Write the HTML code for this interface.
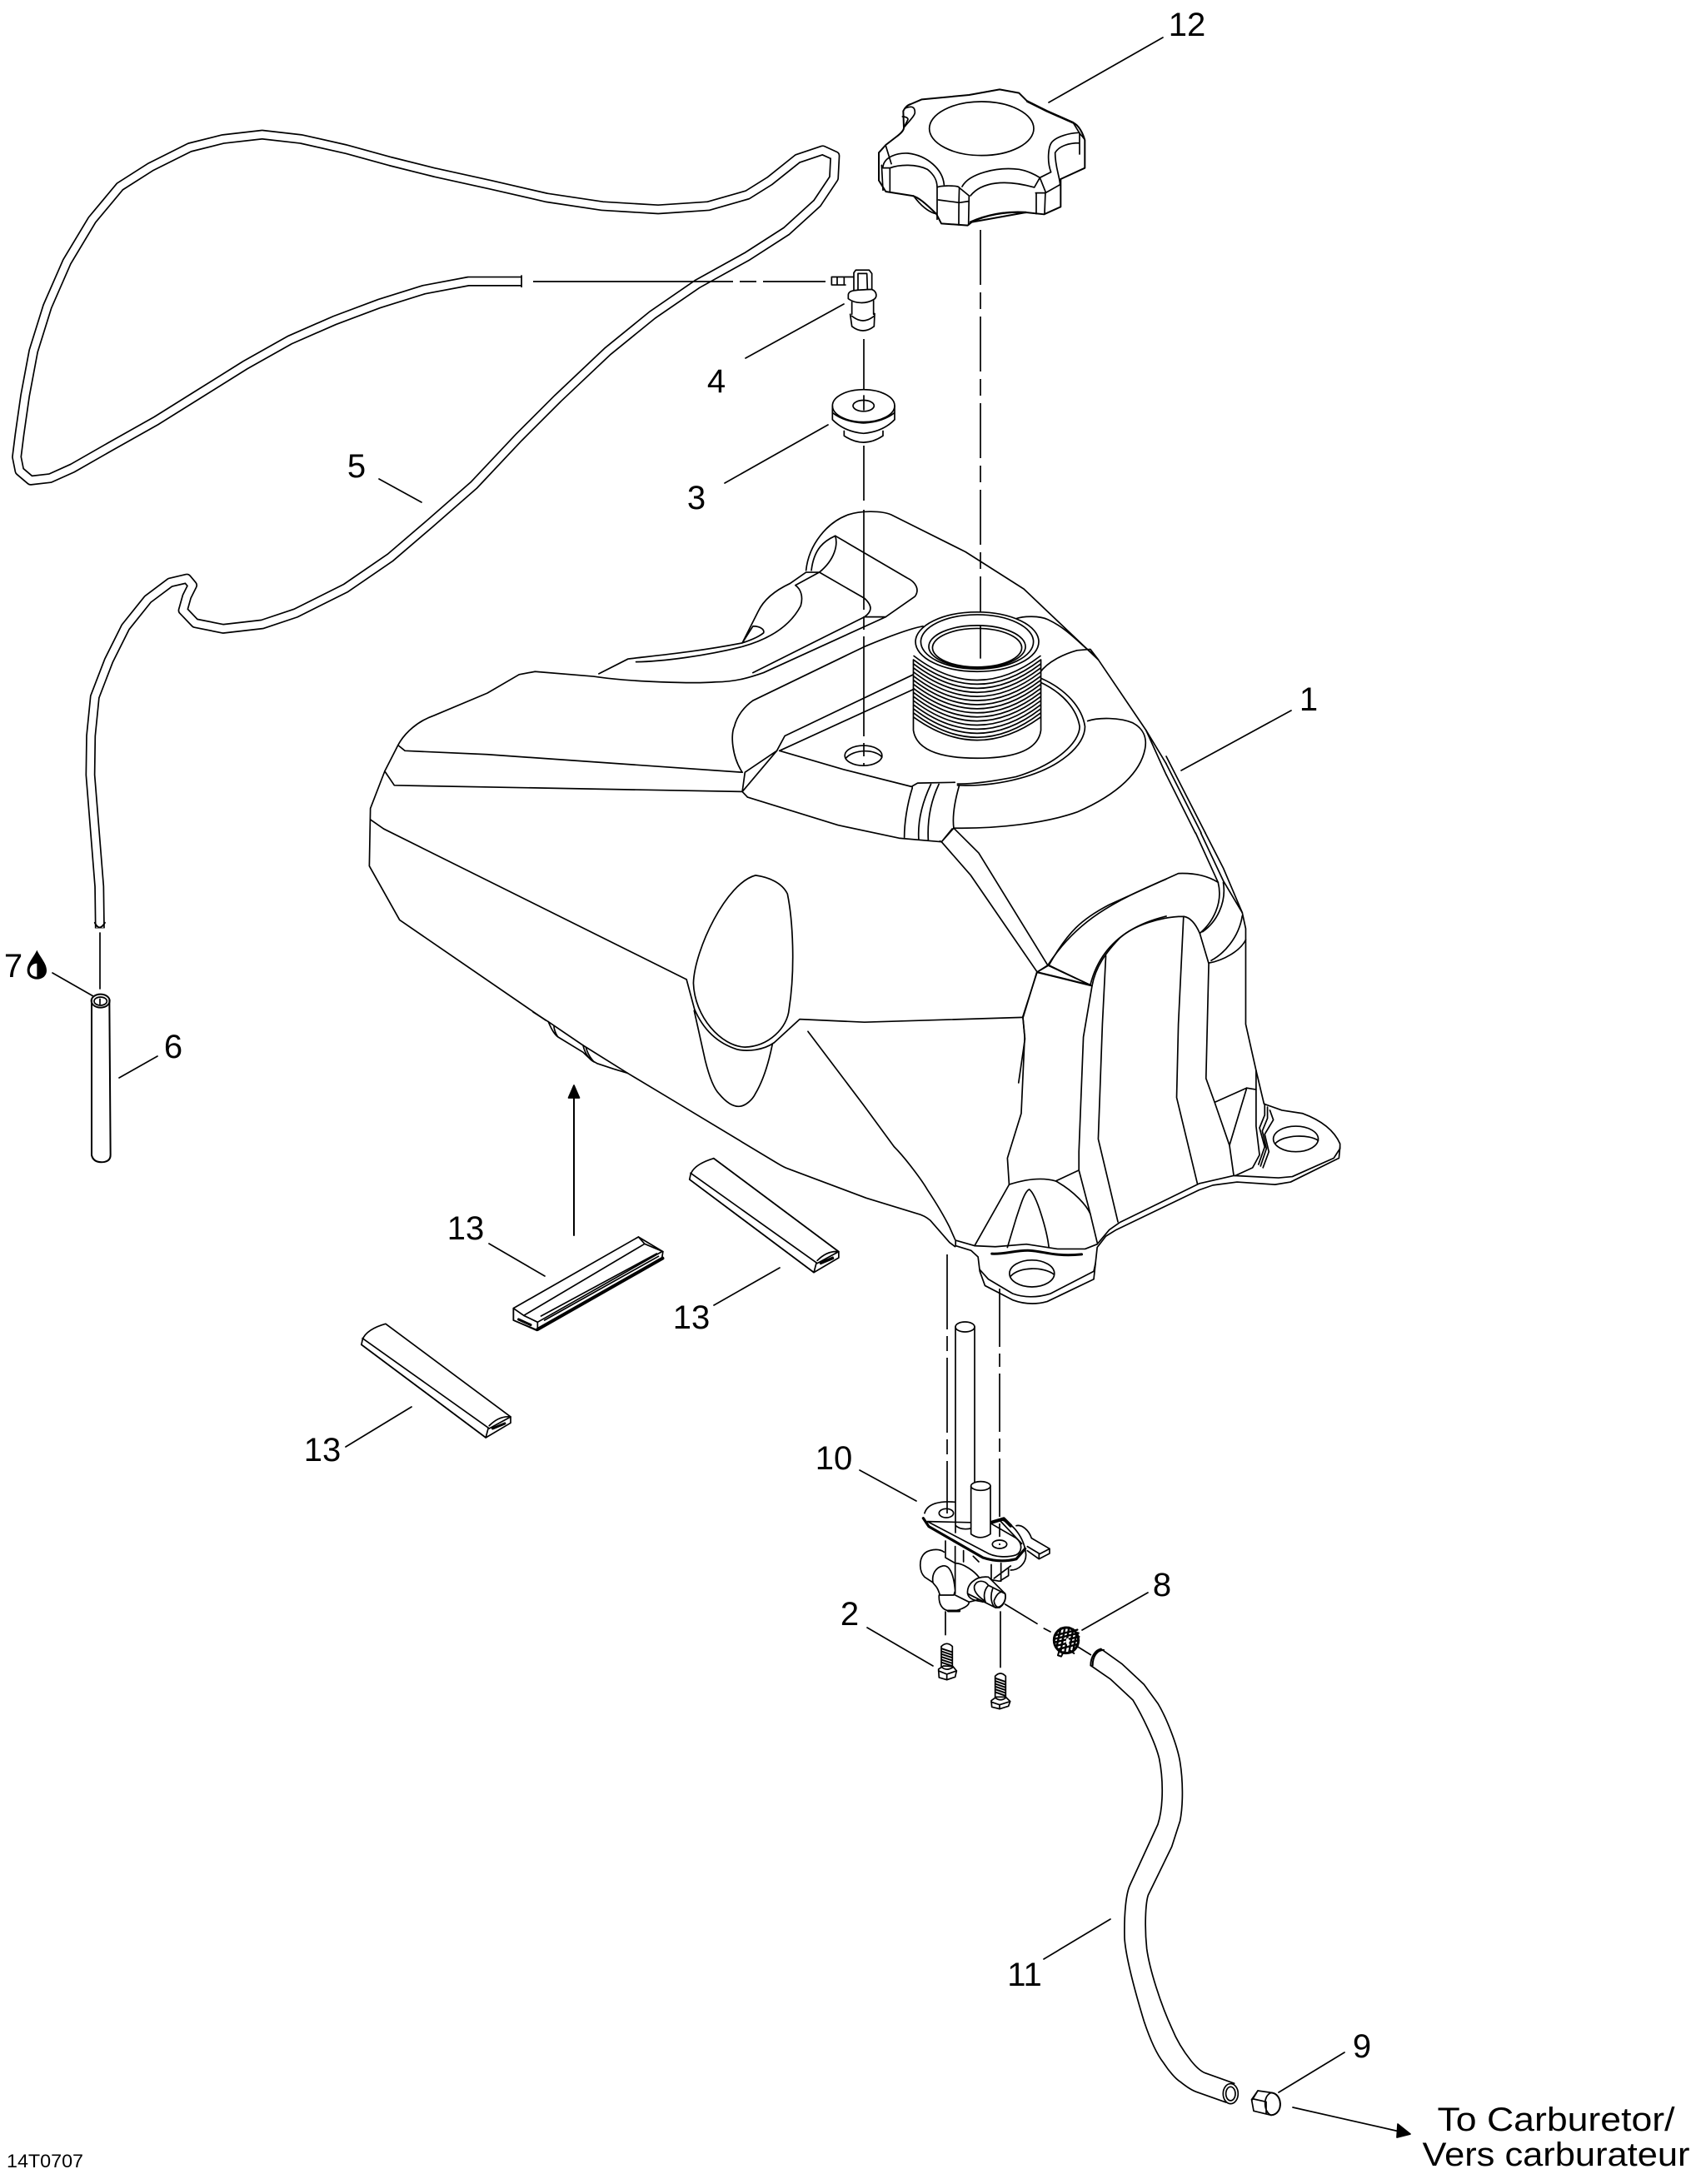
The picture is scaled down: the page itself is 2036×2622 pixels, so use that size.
<!DOCTYPE html>
<html><head><meta charset="utf-8"><style>
html,body{margin:0;padding:0;background:#fff}
svg{display:block}
svg *{vector-effect:non-scaling-stroke}
text{font-family:"Liberation Sans",sans-serif;font-size:40px;fill:#000;stroke:none;text-anchor:middle}
</style></head><body>
<svg width="2036" height="2622" viewBox="0 0 2036 2622" xmlns="http://www.w3.org/2000/svg">
<rect width="2036" height="2622" fill="#fff"/>
<g fill="none" stroke="#000" stroke-width="1.7" stroke-linejoin="round" stroke-linecap="round">

<!-- vent hose -->
<g transform="translate(0,100) scale(.6696)">
<polyline stroke-width="12" stroke-linecap="butt" points="935,355 840,355 760,370 680,395 600,425 520,460 440,505 360,555 280,605 200,650 130,690 90,708 55,712 35,695 30,670 35,630 45,560 60,480 85,400 120,320 165,245 215,185 270,150 340,115 400,100 470,92 540,100 620,118 700,140 780,160 880,182 980,205 1080,220 1180,226 1270,220 1340,200 1380,175 1430,135 1475,120 1497,130 1495,170 1465,215 1410,265 1340,310 1250,360 1170,415 1090,480 1000,565 930,635 850,720 770,790 700,850 620,905 530,950 470,970 400,978 350,968 328,945 335,920 345,900 335,888 305,895 265,925 225,975 195,1035 170,1100 163,1170 162,1240 170,1340 178,1440 179,1515"/>
<polyline stroke="#fff" stroke-width="8.6" stroke-linecap="butt" points="934,355 840,355 760,370 680,395 600,425 520,460 440,505 360,555 280,605 200,650 130,690 90,708 55,712 35,695 30,670 35,630 45,560 60,480 85,400 120,320 165,245 215,185 270,150 340,115 400,100 470,92 540,100 620,118 700,140 780,160 880,182 980,205 1080,220 1180,226 1270,220 1340,200 1380,175 1430,135 1475,120 1497,130 1495,170 1465,215 1410,265 1340,310 1250,360 1170,415 1090,480 1000,565 930,635 850,720 770,790 700,850 620,905 530,950 470,970 400,978 350,968 328,945 335,920 345,900 335,888 305,895 265,925 225,975 195,1035 170,1100 163,1170 162,1240 170,1340 178,1440 179,1514"/>
<path d="M935,345 V365"/>
<path d="M170,1505 Q178,1522 188,1505" stroke-width="2"/>
</g>
<!-- fuel hose -->
<g transform="translate(1250,1900) scale(.3333,.4146)">
<path d="M215,192 L290,235 L370,295 L420,350 C450,390 490,470 500,520 C510,570 512,640 500,690 L470,765 L385,905 C375,930 372,1000 380,1060 C390,1120 430,1220 470,1290 C495,1340 530,1375 540,1385 C560,1405 575,1415 590,1420 L695,1450"/>
<path d="M178,240 L250,280 L330,340 C360,380 410,460 425,510 C440,570 440,650 420,700 L320,875 C305,900 298,960 300,1030 C305,1090 340,1190 370,1270 C395,1330 420,1370 440,1390 C460,1415 485,1438 500,1445 C520,1458 540,1470 560,1475 L665,1505"/>
<path d="M215,192 C195,195 178,215 178,240 M225,195 C200,195 185,215 185,240" stroke-width="2"/>
<ellipse cx="682" cy="1480" rx="27" ry="29" fill="#fff"/>
<ellipse cx="682" cy="1480" rx="17" ry="20"/>
</g>
<g transform="translate(1250,2350) scale(.5,.3333)">
<!-- plug 9 -->
<path fill="#fff" d="M520,480 L552,487 C580,490 582,565 552,568 L510,553 L505,512Z"/>
<path d="M552,487 C530,500 535,560 552,568 M510,510 L540,520 L540,562 M520,480 L507,512"/>
<path d="M552,487 C580,490 582,565 552,568" stroke-width="2"/>
</g>

<!-- leaders -->
<path d="M1396,45 L1259,123 M1013,365 L895,430 M994,510 L870,580 M506,603 L455,575 M1418,925 L1550,853 M63,1168 L112,1196 M143,1294 L189,1268 M587,1493 L654,1532 M857,1567 L936,1522 M415,1737 L494,1689 M1032,1765 L1100,1802 M1041,1954 L1120,2000 M1299,1957 L1378,1912 M1333,2304 L1253,2352 M1535,2512 L1614,2464"/>
<!-- center lines -->
<path d="M1177,276 V790" stroke-dasharray="66 9 20 9" stroke-linecap="butt"/>
<path d="M1037,407 V475 M1037,535 V601 M1037,612 V919" stroke-dasharray="120 8 16 8" stroke-linecap="butt"/>
<path d="M640,338 H991" stroke-dasharray="240 8 20 8" stroke-linecap="butt"/>
<path d="M120,1120 V1187"/>
<path d="M1137,1506 V1817" stroke-dasharray="90 8 18 8" stroke-linecap="butt"/>
<path d="M1200,1547 V1855" stroke-dasharray="70 8 16 8" stroke-linecap="butt"/>
<!-- up arrow -->
<path d="M689,1483 V1315" stroke-width="2"/>
<path d="M689,1303 L682.5,1318 L695.5,1318Z" fill="#000"/>
<!-- carb arrow -->
<path d="M1552,2530 L1680,2559"/>
<path d="M1693,2562 L1678,2550 L1677,2566Z" fill="#000"/>

<!-- cap -->
<g transform="translate(1050,100) scale(.3333)">
<path fill="#fff" stroke-width="2" d="M15,250 L40,222 L75,195 C95,180 105,170 105,160 L103,100 C110,85 120,78 130,75 L170,58 L340,42 L450,22 L520,35 L550,65 L620,100 L715,142 C735,150 750,180 757,205 V305 L670,345 V445 L610,472 L545,465 L350,500 L335,512 L240,505 L222,470 C190,440 160,410 135,405 L40,390 L15,350Z"/>
<ellipse cx="385" cy="163" rx="188" ry="97"/>
<path d="M30,300 C35,265 80,250 120,252 C190,260 245,310 250,365 M55,305 C90,292 150,290 190,310 C215,330 225,350 225,375 V490 M55,305 V390 M30,305 H55 M25,295 L30,385 M225,375 C235,368 280,368 300,372 L340,405 L338,510 M230,420 L305,430 L338,425 M305,375 C303,420 303,470 303,510 M315,372 C340,325 440,300 520,310 C550,315 580,330 595,340 M345,405 C385,355 470,345 575,375 L595,340 L615,390 L612,470 M580,395 H615 M582,395 V470 M595,340 L635,320 M615,395 L668,365 M635,320 C620,280 625,225 640,210 C660,190 700,180 735,178 M668,365 C665,330 650,300 650,250 C665,225 700,215 738,215 M738,178 V255 M715,142 L738,180 L755,200 M140,405 C165,440 195,465 222,470 M105,160 C130,130 145,115 145,105 C145,85 135,80 110,90 M100,120 C112,120 120,125 120,130 L105,160 M40,225 L60,290"/>
<path d="M345,500 C400,475 470,460 545,465" stroke-width="2.4"/>
<path d="M550,65 L620,100 L715,142" stroke-width="2.6"/>
</g>

<!-- fitting & grommet -->
<g transform="translate(950,0) scale(.3333,.4146)">
<path d="M145,802 H225 M145,825 H195 M145,802 V825 M165,802 V825 M190,802 V825 M225,790 L232,782 H280 L290,792 V845 M225,790 V850 M240,792 H272 L275,860 M240,792 V860"/>
<path d="M205,855 C205,840 225,840 290,838 C310,845 310,862 295,868 C270,880 230,880 205,865Z" fill="#fff"/>
<path d="M218,875 V910 M296,870 V910 M212,910 L218,945 Q258,970 298,945 L300,908 M218,915 Q258,942 298,915"/>
<ellipse cx="260" cy="1175" rx="112" ry="47" fill="#fff"/>
<path d="M148,1175 V1215 Q190,1250 260,1255 Q330,1250 372,1215 V1175 M148,1195 Q190,1222 260,1225 Q330,1222 372,1195 M190,1248 V1262 Q260,1300 330,1262 V1248"/>
<ellipse cx="260" cy="1175" rx="38" ry="16" fill="#fff"/>
</g>
<path d="M1037,475 V492"/>

<!-- tank upper -->
<g transform="translate(400,600) scale(.6378,.4464)" >
<path d="M400,1400 L125,1130 L68,985 L70,830 L97,730 L122,660 C135,625 160,595 190,580 L290,520 L350,470 L380,462 L490,475 C560,490 680,495 720,490 C760,490 790,475 810,465 L1040,315 L1095,260 C1105,240 1095,220 1080,210 L945,97 C950,120 945,160 915,195 M890,190 C895,120 930,60 970,40 C990,30 1030,28 1050,40 L1190,140 L1300,240 L1440,430 L1530,620 L1568,740"/>
<path d="M900,190 C905,130 925,110 945,97 M122,660 L135,675 L290,685 L770,733 M97,730 L115,768 L770,785 M770,785 L775,733 L835,675 Z M840,675 L960,725 L1090,772 M770,785 L780,800 L950,875 L1065,910 L1145,920 M1090,770 L1100,762 L1170,760"/>
<path d="M1090,775 C1080,820 1075,870 1075,908 M1125,765 C1110,810 1100,860 1102,912 M1140,765 C1125,810 1118,860 1120,915 M1178,770 C1170,810 1165,850 1168,883 L1145,920 L1142,918 M1165,885 L1145,920"/>
<path d="M1168,883 L1215,950 L1345,1252 M1145,920 L1200,1010 L1325,1270 L1345,1252 L1425,1305 L1325,1270 L1298,1390 L1302,1450 L1290,1568"/>
<path d="M1298,1392 L1000,1405 L878,1397 L830,1460 C810,1480 780,1485 760,1478 C720,1460 695,1420 680,1370 L665,1290"/>
<path d="M795,1010 C740,1030 680,1210 678,1300 C680,1390 730,1470 775,1472 C820,1470 855,1420 858,1370 C870,1260 865,1130 855,1060 C845,1030 820,1015 795,1010Z"/>
<path d="M70,860 L95,885 L665,1290"/>
<path d="M1345,1252 C1400,1130 1470,1080 1568,1020 M1425,1305 C1440,1220 1480,1150 1568,1120"/>
<path d="M835,675 L850,635 L1092,470 M840,675 L1092,510 M770,733 C750,690 748,630 755,610 C760,580 775,555 790,540 L1000,395 C1050,365 1090,345 1110,340"/>
<path d="M500,468 L555,428 C600,420 680,410 770,385 L800,300 C810,270 830,245 860,225 L890,195 L915,195 L1000,265 C1015,285 1015,300 1000,315 L790,465 M1000,315 H1040 M570,436 C620,435 700,420 770,395 C820,375 860,340 880,285 C885,260 880,240 870,230 L915,195 M770,385 L790,340 C805,340 812,350 810,358 C800,370 785,378 770,385"/>
<path d="M1285,320 C1300,312 1330,312 1345,322 C1380,345 1400,380 1430,415 M1330,465 C1345,435 1375,415 1400,405 L1425,402 L1440,430 M1332,480 C1380,510 1410,560 1415,610 C1415,660 1370,720 1290,750 C1250,765 1210,770 1175,768 M1330,490 C1375,520 1400,565 1405,610 C1405,650 1365,710 1285,745 C1250,755 1210,765 1175,764"/>
<path d="M1420,595 C1440,585 1480,585 1505,600 C1525,615 1532,640 1528,670 C1520,730 1480,790 1400,840 C1340,870 1250,885 1168,883 M1530,620 L1568,710"/>
<!-- threaded neck -->
<path fill="#fff" stroke="none" d="M1092,382 H1332 V620 Q1325,695 1212,695 Q1100,695 1092,620Z"/>
<path d="M1092,430 V620 Q1100,695 1212,695 Q1325,695 1332,620 V430 M1093,420 Q1212,550 1331,420 M1093,431 Q1212,561 1331,431 M1093,442 Q1212,572 1331,442 M1093,453 Q1212,583 1331,453 M1093,464 Q1212,594 1331,464 M1093,475 Q1212,605 1331,475 M1093,486 Q1212,616 1331,486 M1093,497 Q1212,627 1331,497 M1093,508 Q1212,638 1331,508 M1093,519 Q1212,649 1331,519 M1093,530 Q1212,660 1331,530 M1093,541 Q1212,671 1331,541 M1093,552 Q1212,682 1331,552 M1093,563 Q1212,693 1331,563 M1093,574 Q1212,704 1331,574 M1093,585 Q1212,708 1331,585"/>
<ellipse cx="1212" cy="382" rx="116" ry="80" fill="#fff"/>
<ellipse cx="1212" cy="382" rx="106" ry="73"/>
<ellipse cx="1212" cy="395" rx="91" ry="57"/>
<ellipse cx="1212" cy="398" rx="84" ry="52"/>
<ellipse cx="998" cy="688" rx="35" ry="27"/>
<path d="M965,695 C980,670 1020,670 1033,692"/>
</g>
<path d="M1177,752 V790"/>
<!-- right edge join -->
<path d="M1400,930 L1435,1000 M1400,917 L1442,1000 M1400,908 L1447,1000"/>

<!-- tank belly join -->
<g transform="translate(640,1180) scale(.3333)">
<path d="M0,105 L55,140 L180,225 L340,325 L490,415 L880,650 C900,662 910,667 920,670 L1200,775 L1380,830 C1400,835 1415,842 1430,855 L1500,935 L1520,950"/>
<path d="M55,140 C65,165 75,185 90,195 L180,250 C195,265 210,280 230,290 L290,310 L340,325 M75,155 C75,170 85,190 90,195 M180,225 C185,250 200,275 220,285 M190,232 C195,250 205,270 220,285"/>
<path d="M580,100 L620,280 C635,340 650,380 670,400 C695,430 720,445 740,445 C765,445 790,420 800,400 C830,350 850,280 862,220"/>
<path d="M990,175 L1190,440 L1300,590 C1340,630 1400,710 1420,745 C1450,790 1480,840 1500,880 L1520,925"/>
</g>

<!-- tank lower right -->
<g transform="translate(1000,1000) scale(.4146,.3827)">
<path d="M1078,0 L1130,110 L1185,250 L1195,300 V600 L1225,745 L1248,850 L1300,870 L1360,880 C1410,900 1450,930 1468,975 L1468,990 L1450,1020 L1330,1078 L1290,1082 L1160,1075 L1060,1100 L830,1222 L800,1245 L765,1290"/>
<path d="M1468,985 L1465,1020 L1325,1095 L1280,1103 L1170,1095 L1100,1105 L1060,1120 L820,1245 L790,1265 L765,1300 L760,1350 L755,1400 L620,1470 Q570,1485 520,1465 L440,1420 L425,1375 L420,1330 L400,1310 L355,1295 L355,1278 L410,1295 L470,1298 L560,1290 L650,1305 L730,1305 L765,1290"/>
<path d="M760,1350 L755,1375 L630,1445 Q570,1465 520,1445 L450,1400 L425,1370"/>
<path d="M460,1320 C500,1322 530,1308 570,1310 C610,1312 640,1330 720,1322" stroke-width="3"/>
<ellipse cx="576" cy="1382" rx="65" ry="42"/>
<path d="M515,1390 C540,1360 610,1360 640,1385"/>
<ellipse cx="1340" cy="960" rx="65" ry="40"/>
<path d="M1280,975 C1305,945 1380,945 1405,965"/>
<path d="M410,1295 L510,1103 Q590,1075 645,1092 C700,1125 735,1170 745,1195 L765,1285 M505,1300 L530,1210 C545,1160 555,1125 568,1118 C590,1135 620,1250 625,1300"/>
<path d="M645,1092 L712,1058 M510,1103 L505,1020 L545,880 L555,640 L550,580 L590,437 M590,437 L625,415 L750,480 Z M750,480 L725,640 L712,1000 L712,1058 L745,1195"/>
<path d="M625,415 C680,310 720,270 800,225 L1000,127 C1050,125 1085,135 1115,155 M790,385 L780,600 L768,960 L825,1220"/>
<path d="M750,480 C760,420 790,375 830,330 C870,290 950,262 1015,262 C1035,265 1050,285 1062,315 L1088,410 M1015,262 L1000,600 L995,830 L1055,1100 M1088,410 L1080,770 L1105,845 L1148,980 L1160,1072 M1105,845 L1198,800 L1148,980 M1198,800 L1225,805"/>
<path d="M1062,315 C1100,280 1130,220 1115,155 M1070,310 C1110,280 1140,220 1130,155 M1088,408 C1130,400 1180,370 1195,335 M1095,400 C1130,380 1175,330 1185,260"/>
<path d="M1050,0 L1115,155 M1065,0 L1130,150 M1130,150 L1185,250"/>
<path d="M1225,745 V920 L1235,1010 L1215,1050 L1165,1075"/>
<path d="M1250,850 L1250,885 L1235,925 L1250,985 L1232,1040 M1258,860 L1258,895 L1243,935 L1255,990 L1238,1045 M1265,870 L1275,900 L1250,945 L1262,1000 L1245,1050"/>
</g>

<!-- strips 13 -->
<g transform="translate(380,1350) scale(.4146,.3333)">
<path fill="#fff" d="M1150,122 C1115,135 1090,155 1083,180 L1080,198 L1440,533 L1512,480 L1512,458 Z"/>
<path d="M1083,175 L1450,500 L1512,458 M1080,198 L1440,533 L1447,500 M1450,490 C1470,465 1490,455 1512,458 M1460,497 L1495,478 M1150,122 L1512,458" />
<path d="M1460,500 L1495,482" stroke-width="3"/>
<path fill="#fff" d="M200,718 C165,730 140,750 133,775 L130,793 L490,1128 L562,1075 L562,1053 Z"/>
<path d="M133,770 L500,1095 L562,1053 M130,793 L490,1128 L497,1095 M500,1085 C520,1060 540,1050 562,1053"/>
<path d="M510,1095 L545,1077" stroke-width="3"/>
<path fill="#fff" d="M570,662 L932,405 L1003,458 L1000,482 L638,740 L570,705 Z"/>
<path d="M570,662 L600,688 L950,430 L1003,458 M600,688 L640,712 L1000,458 M640,712 V740 M570,662 V705 L638,742 M932,405 L950,430 M650,690 L985,465 M660,705 L990,475"/>
<path d="M640,738 L1002,482" stroke-width="4"/>
<path d="M585,702 L620,722" stroke-width="3"/>
</g>

<!-- tube 6 -->
<g transform="translate(0,1050) scale(.3333)">
<path d="M330,452 V1010 Q335,1035 365,1036 Q398,1035 398,1010 L394,452" stroke-width="2"/>
<ellipse cx="362" cy="455" rx="33" ry="24" stroke-width="2"/>
<ellipse cx="362" cy="456" rx="23" ry="15"/>
<path d="M360,448 V466"/>
<path d="M133,272 C120,300 98,320 98,345 C98,365 115,377 133,377 C152,377 168,365 168,345 C168,320 146,300 133,272Z" fill="#000" stroke="none"/>
<path d="M133,320 C115,320 107,335 107,345 C107,360 120,368 133,368Z" fill="#fff" stroke="none"/>
</g>

<!-- valve -->
<path d="M1147,1593 V1840 M1170,1593 V1790" stroke-width="1.7"/>
<ellipse cx="1158.5" cy="1593" rx="11.5" ry="6"/>
<g transform="translate(1000,1700) scale(.3333)">
<path d="M442,395 Q460,412 497,405"/>
<path d="M330,350 C340,315 385,305 440,310 M565,385 L660,440 C685,460 680,490 660,500 C630,510 580,510 550,490 L340,380 Z"/>
<path d="M325,368 L345,398 L540,510 Q600,530 660,515 L692,478" stroke-width="3.2"/>
<ellipse cx="408" cy="350" rx="26" ry="16"/>
<ellipse cx="600" cy="462" rx="26" ry="15"/>
<path fill="#fff" d="M497,252 V425 Q530,450 567,425 V252Z"/>
<ellipse cx="532" cy="252" rx="35" ry="16" fill="#fff"/>
<path d="M570,380 L600,372 C650,385 690,440 695,500 C695,530 670,555 640,555 M600,375 L680,460 M660,395 C680,390 705,410 715,440 L780,478 L780,495 L742,515 L700,485 M742,515 V495 L700,470 M742,498 L780,478" />
<path d="M575,382 L615,370 L640,395" stroke-width="4"/>
<path d="M405,450 V510 L440,530 M440,470 V530 M470,485 V525 M505,505 L525,525 M570,535 V590 L600,595 L632,575 V550 M605,530 V595 M580,585 L640,540"/>
<path d="M400,490 C380,475 340,480 325,500 C310,520 310,560 330,580 L360,600 M360,600 C355,570 370,545 395,540 C420,535 435,570 440,630 L435,645 L385,645 C375,610 365,610 360,600 M440,530 C470,530 510,560 525,580 M440,645 L490,670 C490,690 440,705 420,702 C395,700 380,680 382,645 M490,670 L530,660 M440,530 V640"/>
<path fill="#fff" d="M485,640 C480,610 510,575 560,580 L620,640 C625,665 610,690 585,690 L545,670 Z"/>
<path d="M485,640 C490,665 525,665 540,670 M510,610 C520,590 545,590 560,610 L620,640 M510,610 C505,625 515,645 545,665 M560,610 C545,625 540,650 550,672 M575,622 C565,650 570,680 585,690 M585,690 C610,695 625,665 620,640 C605,625 590,640 580,665 C580,680 590,690 600,690"/>
<path d="M415,702 H455" stroke-width="3"/>
<path d="M405,705 V788 M603,705 V905 M620,678 L735,748 M760,765 L783,777 M875,827 L928,860"/>
<!-- bolts -->
<path d="M390,830 Q410,810 430,830 V905 M390,830 V905"/>
<path d="M392,838 L428,850 M392,848 L428,860 M392,858 L428,870 M392,868 L428,880 M392,878 L428,890 M392,888 L428,900" stroke-width="2"/>
<path fill="#fff" d="M380,912 L398,900 L432,902 L445,918 L440,940 L410,950 L382,942Z"/>
<path d="M380,918 L410,930 L445,918 M410,930 V950 M392,905 Q410,920 432,905"/>
<path d="M584,937 Q603,917 622,937 V1015 M584,937 V1015"/>
<path d="M586,945 L620,957 M586,955 L620,967 M586,965 L620,977 M586,975 L620,987 M586,985 L620,997 M586,995 L620,1007" stroke-width="2"/>
<path fill="#fff" d="M570,1025 L588,1012 L622,1012 L638,1028 L632,1045 L600,1055 L572,1048Z"/>
<path d="M570,1030 L600,1040 L638,1028 M600,1040 V1055 M585,1015 Q603,1030 622,1015"/>
<!-- clamp 8 -->
<ellipse cx="840" cy="808" rx="44" ry="46" fill="#fff" stroke-width="3"/>
<g stroke-width="2.4"><path d="M800,790 L880,770 M798,803 L884,782 M798,815 L886,795 M803,828 L885,808 M812,840 L880,822 M820,765 L805,835 M835,762 L820,848 M850,762 L835,852 M865,768 L850,852 M878,780 L865,845"/></g>
<path d="M815,845 L810,862 L822,866 L830,850 M855,845 L868,855" stroke-width="2"/>
<ellipse cx="845" cy="812" rx="6" ry="12" fill="#fff" stroke="none"/>
</g>

</g>

<text x="1425" y="43">12</text>
<text x="860" y="471">4</text>
<text x="836" y="611">3</text>
<text x="428" y="573">5</text>
<text x="1571" y="853">1</text>
<text x="16" y="1173">7</text>
<text x="208" y="1270">6</text>
<text x="559" y="1488">13</text>
<text x="830" y="1595">13</text>
<text x="387" y="1754">13</text>
<text x="1001" y="1764">10</text>
<text x="1020" y="1951">2</text>
<text x="1395" y="1916">8</text>
<text x="1230" y="2384">11</text>
<text x="1635" y="2470">9</text>
<text x="1868" y="2558" textLength="285" lengthAdjust="spacingAndGlyphs">To Carburetor/</text>
<text x="1868" y="2600" textLength="321" lengthAdjust="spacingAndGlyphs">Vers carburateur</text>
<text x="54" y="2602" style="font-size:22px" textLength="92" lengthAdjust="spacingAndGlyphs">14T0707</text>
</svg>
</body></html>
